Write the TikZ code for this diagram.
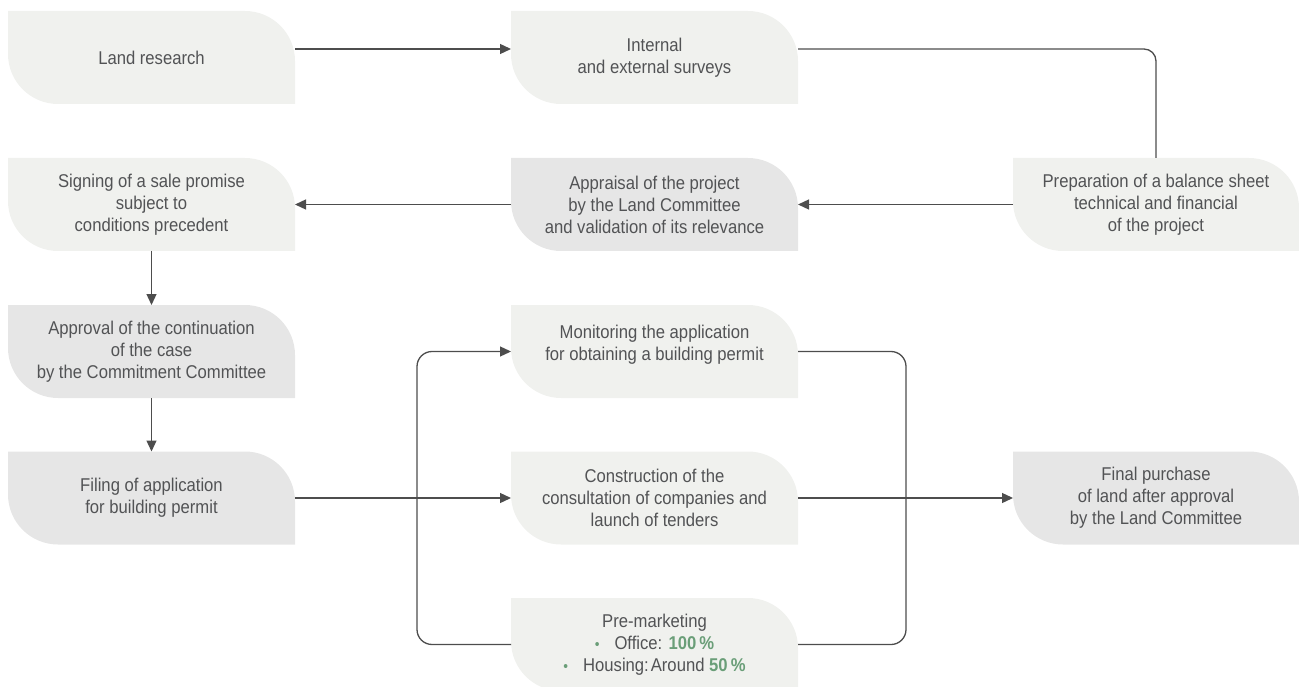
\documentclass[tikz,border=0pt]{standalone}
\usepackage{fontspec}
\setmainfont{Liberation Sans}[FakeStretch=0.9]
\usetikzlibrary{arrows.meta,calc}
\pgfdeclarelayer{background}
\pgfsetlayers{background,main}
\definecolor{lightfill}{HTML}{F0F1EE}
\definecolor{darkfill}{HTML}{E6E6E6}
\definecolor{txtgrey}{HTML}{525355}
\definecolor{linegrey}{HTML}{4D4D4D}
\definecolor{accent}{HTML}{6A9E78}
\newcommand\leafshape[2]{%
  \begin{pgfonlayer}{background}
  \fill[#2] (#1.north west) -- ([xshift=-50pt]#1.north east)
    .. controls ([xshift=-22.4pt]#1.north east) and ([yshift=-22.4pt]#1.north east) .. ([yshift=-50pt]#1.north east)
    -- (#1.south east) -- ([xshift=50pt]#1.south west)
    .. controls ([xshift=22.4pt]#1.south west) and ([yshift=22.4pt]#1.south west) .. ([yshift=50pt]#1.south west)
    -- cycle;
  \end{pgfonlayer}}
\newcommand\bul{{\color{accent}\fontsize{15}{15}\selectfont\textbullet}\hspace{15pt}}
\begin{document}
\begin{tikzpicture}[x=1pt,y=-1pt,
  box/.style={rectangle, minimum width=287pt, minimum height=93pt, inner sep=0pt, outer sep=0pt,
    align=center, text=txtgrey, font=\fontsize{18.5}{22}\selectfont},
  widebox/.style={box, minimum width=286pt},
  conn/.style={draw=linegrey, line width=1.3pt},
  arr/.style={conn, -{Triangle[length=11pt,width=10pt]}}]
\useasboundingbox (0,0) rectangle (1299,687);

\node[box] (land) at (151.5,57.5) {Land research};
\node[box] (surveys) at (654.5,57.5) {Internal\\and external surveys};
\node[widebox] (prep) at (1156,204.5) {Preparation of a balance sheet\\technical and financial\\of the project};
\node[box] (appraisal) at (654.5,204.5) {Appraisal of the project\\by the Land Committee\\and validation of its relevance};
\node[box] (signing) at (151.5,204.5) {Signing of a sale promise\\subject to\\conditions precedent};
\node[box] (approval) at (151.5,351.5) {Approval of the continuation\\of the case\\by the Commitment Committee};
\node[box] (filing) at (151.5,498) {Filing of application\\for building permit};
\node[box] (monitoring) at (654.5,351.5) {Monitoring the application\\for obtaining a building permit\\[-4pt]\mbox{}};
\node[box] (construction) at (654.5,498) {Construction of the\\consultation of companies and\\launch of tenders};
\node[box] (pre) at (654.5,644.5) {Pre-marketing\\\bul Office: {\bfseries\color{accent}100\,\%}\\\bul Housing:\hspace{2pt}Around {\bfseries\color{accent}50\,\%}};
\node[widebox] (final) at (1156,498) {Final purchase\\of land after approval\\by the Land Committee};

\leafshape{land}{lightfill}
\leafshape{surveys}{lightfill}
\leafshape{prep}{lightfill}
\leafshape{appraisal}{darkfill}
\leafshape{signing}{lightfill}
\leafshape{approval}{darkfill}
\leafshape{filing}{darkfill}
\leafshape{monitoring}{lightfill}
\leafshape{construction}{lightfill}
\leafshape{pre}{lightfill}
\leafshape{final}{darkfill}

\coordinate (lsplit) at (417,498);
\coordinate (rsplit) at (906,498);

\draw[arr] ([yshift=8.5pt]land.east) -- ([yshift=8.5pt]surveys.west);
\draw[conn, rounded corners=12pt] ([yshift=8.5pt]surveys.east) -| (prep.north);
\draw[arr] (prep.west) -- (appraisal.east);
\draw[arr] (appraisal.west) -- (signing.east);
\draw[arr] (signing.south) -- (approval.north);
\draw[arr] (approval.south) -- (filing.north);
\draw[arr] (filing.east) -- (construction.west);
\draw[arr, rounded corners=15pt] (pre.west) -| (lsplit) |- (monitoring.west);
\draw[conn, rounded corners=15pt] (monitoring.east) -| (rsplit) |- (pre.east);
\draw[conn] (construction.east) -- (rsplit);
\draw[arr] (rsplit) -- (final.west);
\end{tikzpicture}
\end{document}
